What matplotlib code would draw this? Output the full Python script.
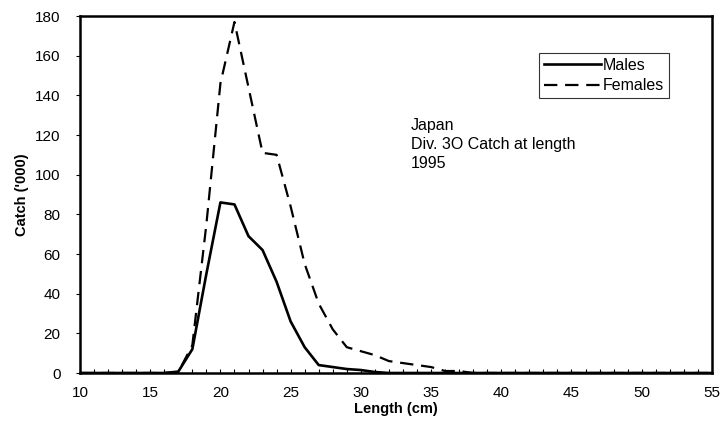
import matplotlib
matplotlib.use("Agg")
import matplotlib.pyplot as plt
from matplotlib.ticker import MultipleLocator

plt.rcParams['font.family'] = ['Liberation Sans', 'DejaVu Sans']

length = list(range(10, 56))
males_vals = {17: 0.7, 18: 12, 19: 50, 20: 86, 21: 85, 22: 69, 23: 62, 24: 46,
              25: 26, 26: 13, 27: 4, 28: 3, 29: 2, 30: 1.5, 31: 0.5}
females_vals = {17: 0.5, 18: 14, 19: 75, 20: 146, 21: 177, 22: 144, 23: 111, 24: 110,
                25: 84, 26: 55, 27: 35, 28: 22, 29: 13, 30: 11, 31: 9, 32: 6,
                33: 5, 34: 4, 35: 3, 36: 1, 37: 1}
males = [males_vals.get(L, 0) for L in length]
females = [females_vals.get(L, 0) for L in length]

fig = plt.figure(figsize=(7.22, 4.42), dpi=100)
ax = fig.add_axes([0.1108, 0.1561, 0.8752, 0.8077])

ax.plot(length, males, color='black', lw=1.9, label='Males')
ax.plot(length, females, color='black', lw=1.6, dashes=(6, 3.5), label='Females')

ax.set_xlim(10, 55)
ax.set_ylim(0, 180)
ax.xaxis.set_major_locator(MultipleLocator(5))
ax.xaxis.set_minor_locator(MultipleLocator(1))
ax.yaxis.set_major_locator(MultipleLocator(20))
ax.tick_params(axis='x', which='both', direction='in', length=3, width=0.8, labelsize=11, pad=9)
ax.tick_params(axis='y', which='major', direction='out', length=3, width=0.8, labelsize=11, pad=11)
for s in ax.spines.values():
    s.set_linewidth(1.8)

ax.set_xlabel('Length (cm)', fontsize=10.5, fontweight='bold', labelpad=2)
ax.set_ylabel("Catch ('000)", fontsize=10.5, fontweight='bold', labelpad=4)

ax.text(0.569, 0.733, 'Japan\nDiv. 3O Catch at length\n1995', transform=fig.transFigure,
        fontsize=11.5, va='top', ha='left', linespacing=1.35)

leg = ax.legend(loc='upper left', bbox_to_anchor=(0.7465, 0.880), bbox_transform=fig.transFigure,
                frameon=True, fancybox=False, edgecolor='black', fontsize=11.5,
                handlelength=3.6, handletextpad=0.1, borderpad=0.3, labelspacing=0.35,
                borderaxespad=0)
leg.get_frame().set_linewidth(0.8)

fig.savefig('out.png', dpi=100)
